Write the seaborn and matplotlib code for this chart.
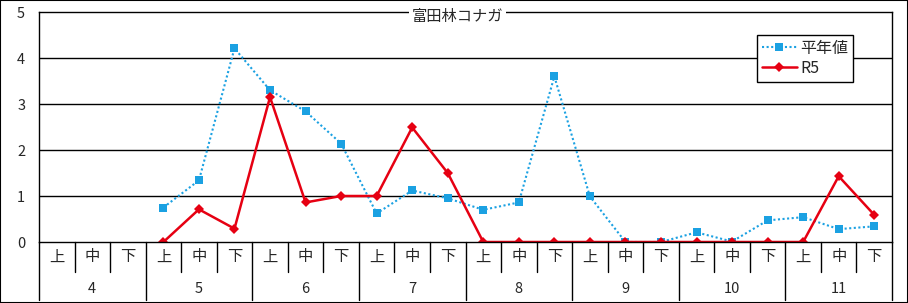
import numpy as np
import pandas as pd
import seaborn as sns
import matplotlib
matplotlib.use("Agg")
import matplotlib.pyplot as plt
from matplotlib.transforms import blended_transform_factory
from matplotlib.lines import Line2D
from matplotlib.patches import Rectangle

# ---- data ----
months = ["4", "5", "6", "7", "8", "9", "10", "11"]
periods = ["上", "中", "下"]
title = "富田林コナガ"
series_names = ["平年値", "R5"]
normal = [np.nan, np.nan, np.nan,
          0.75, 1.34, 4.21,
          3.30, 2.84, 2.14,
          0.62, 1.12, 0.95,
          0.70, 0.86, 3.60,
          0.99, 0.00, 0.00,
          0.21, 0.01, 0.47,
          0.54, 0.28, 0.34]
r5 = [np.nan, np.nan, np.nan,
      0.00, 0.71, 0.29,
      3.15, 0.86, 1.00,
      1.00, 2.49, 1.50,
      0.00, 0.00, 0.00,
      0.00, 0.00, 0.00,
      0.00, 0.00, 0.00,
      0.00, 1.43, 0.59]
yticks = [0, 1, 2, 3, 4, 5]

sns.set_theme(style="white")
plt.rcParams['font.family'] = ['Noto Sans CJK JP', 'DejaVu Sans']

n = len(months) * len(periods)
pos = np.arange(n)
df = pd.DataFrame({"pos": pos, series_names[0]: normal, series_names[1]: r5})

W, H = 908, 303
fig = plt.figure(figsize=(W / 100, H / 100), dpi=100)
L, R, T, B = 39, 892, 12, 242
ax = fig.add_axes([L / W, 1 - B / H, (R - L) / W, (B - T) / H])

blue = "#1ba1e2"
red = "#e60012"
sns.lineplot(data=df, x="pos", y=series_names[0], ax=ax, color=blue,
             linestyle=(0, (1, 1.2)), linewidth=1.5, marker="s",
             markersize=5.8, markeredgewidth=0, markerfacecolor=blue,
             label=series_names[0])
sns.lineplot(data=df, x="pos", y=series_names[1], ax=ax, color=red,
             linewidth=1.8, marker="D", markersize=5.5, markeredgewidth=0,
             markerfacecolor=red, label=series_names[1])

ax.set_xlim(-0.5, n - 0.5)
ax.set_ylim(0, 5)
ax.set_yticks(yticks)
ax.set_yticklabels([str(v) for v in yticks], fontsize=10.5)
ax.tick_params(axis="y", length=0, pad=10)
ax.set_xticks([])
ax.set_xlabel("")
ax.set_ylabel("")
for v in yticks[1:-1]:
    ax.axhline(v, color="black", linewidth=1, zorder=0.5)
for s in ax.spines.values():
    s.set_color("black")
    s.set_linewidth(1)

trans = blended_transform_factory(ax.transData, ax.transAxes)
y_row1 = (B - 272) / (B - T)
y_row2 = (B - 300) / (B - T)
# category labels (上中下)
for i in pos:
    ax.text(i, (B - 257) / (B - T), periods[i % 3], transform=trans,
            ha="center", va="center", fontsize=11)
# separator lines
for i in range(n + 1):
    x = i - 0.5
    yb = y_row2 if i % 3 == 0 else y_row1
    ax.add_line(Line2D([x, x], [0, yb], transform=trans, color="black",
                       linewidth=1, clip_on=False))
# month labels
for m, name in enumerate(months):
    xc = np.mean(pos[m * 3:(m + 1) * 3])
    ax.text(xc, (B - 289) / (B - T), name, transform=trans,
            ha="center", va="center", fontsize=10.5)

# title on the top frame
ax.text((457 - L) / (R - L), (B - 16) / (B - T), title, transform=ax.transAxes,
        ha="center", va="center", fontsize=11,
        bbox=dict(facecolor="white", edgecolor="none", pad=2))

leg = ax.legend(loc="upper right",
                bbox_to_anchor=((853 - L) / (R - L), (B - 35) / (B - T)),
                fontsize=11.5, frameon=True, fancybox=False, framealpha=1,
                edgecolor="black", handlelength=2.2, handletextpad=0.2,
                borderpad=0.3, labelspacing=0.2, borderaxespad=0)
leg.get_frame().set_linewidth(1)

fig.patches.append(Rectangle((0, 0), 1, 1, transform=fig.transFigure,
                             fill=False, edgecolor="black", linewidth=1.5))

fig.savefig("out.png", dpi=100, facecolor="white")
